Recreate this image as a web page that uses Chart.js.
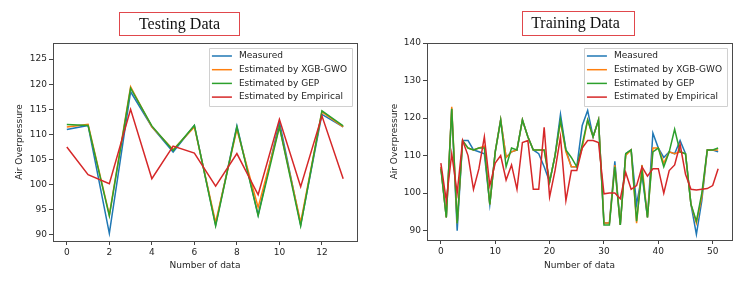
<!DOCTYPE html>
<html>
<head>
<meta charset="utf-8">
<script src="https://cdn.jsdelivr.net/npm/chart.js@4"></script>
<style>
    body { margin: 0; background: #fff; }
    #wrap { position: relative; width: 748px; height: 283px; }
    .panel { position: absolute; top: 0; width: 374px; height: 283px; }
    .boxTitle {
        position: absolute;
        border: 1px solid #e0474c;
        font-family: "Liberation Serif", "DejaVu Serif", serif;
        font-size: 16px;
        color: #111;
        text-align: center;
        box-sizing: border-box;
        line-height: 21px;
    }
</style>
</head>
<body>
<div id="wrap">
    <div class="panel" style="left:0"><canvas id="testChart" width="374" height="283"></canvas></div>
    <div class="panel" style="left:374px"><canvas id="trainChart" width="374" height="283"></canvas></div>
    <div class="boxTitle" style="left:119px; top:12px; width:121px; height:24px;">Testing Data</div>
    <div class="boxTitle" style="left:522px; top:11px; width:113px; height:25px; padding-right:6px;">Training Data</div>
</div>
<script>
// Series names and colours (matplotlib default cycle)
const seriesNames = ['Measured', 'Estimated by XGB-GWO', 'Estimated by GEP', 'Estimated by Empirical'];
const seriesColors = ['#1f77b4', '#ff7f0e', '#2ca02c', '#d62728'];

// Testing data (14 points)
const testMeasured  = [111, 111.8, 90.3, 118.5, 111.5, 106.5, 111.8, 92, 111.7, 94, 112.5, 92, 114, 111.5];
const testXgb       = [111.5, 112, 94, 119.5, 111.5, 107, 111.5, 92.5, 111, 95.5, 111.5, 92.5, 114.5, 111.5];
const testGep       = [112, 111.8, 93.8, 119.2, 111.7, 106.8, 111.8, 91.8, 111.5, 93.8, 111.5, 91.8, 114.7, 111.7];
const testEmpirical = [107.5, 102, 100.2, 115, 101.2, 107.7, 106.3, 99.7, 106.2, 98, 113, 99.6, 113.7, 101.2];
const testXTicks = [0, 2, 4, 6, 8, 10, 12];
const testYTicks = [90, 95, 100, 105, 110, 115, 120, 125];

// Training data (52 points)
const trainMeasured = [
    107, 93.5, 122.5, 90, 114, 114, 111.5, 111, 110.5, 97,
    111, 119.5, 109.5, 111, 111.5, 119.5, 115, 111.5, 110.5, 107,
    103, 110, 121, 111.5, 107, 107, 118, 122, 115, 119.5,
    92, 92, 108.5, 91.5, 110.5, 111.5, 97, 105, 93.5, 116,
    112, 109.5, 111, 110.5, 114, 110.5, 97, 89, 98, 111.5,
    111.5, 111
];
const trainXgb = [
    107, 93.5, 123, 92, 114, 112, 111.5, 112, 112.5, 97,
    111, 119.5, 109.5, 111, 111.5, 119.5, 115, 111.5, 111.5, 111.5,
    103, 110, 119, 111, 107, 107, 112, 119.5, 115, 119.5,
    92, 92, 107.5, 91.5, 110, 111.5, 92, 107.5, 93.5, 112,
    112, 108, 111, 110.5, 111, 110.5, 97, 92, 99, 111.5,
    111.5, 111.5
];
const trainGep = [
    106.5, 93.5, 122.5, 92, 114, 112, 111.5, 112, 112, 97,
    111, 119.5, 107, 112, 111.5, 119.5, 115, 111.5, 111.5, 111.5,
    103, 110, 119.5, 111.5, 109.5, 107, 113, 119.5, 115, 119.5,
    91.5, 91.5, 107, 91.5, 110.5, 111.5, 92.5, 106, 93.5, 111,
    112, 107, 111, 117, 111, 110.5, 97, 92.5, 100, 111.5,
    111.5, 112
];
const trainEmpirical = [
    108, 98, 110.5, 100, 114, 110, 101, 106.5, 115, 102,
    108, 110, 103.5, 107.5, 101, 113.5, 114, 101, 101, 117.5,
    99, 106, 115, 98, 106, 106, 112, 114, 114, 113.5,
    99.8, 100, 100, 98.5, 105.5, 101, 102, 107, 104.5, 106.5,
    106.5, 100, 106, 107.5, 113, 105, 101, 100.8, 101, 101.2,
    102, 106.5
];
const trainXTicks = [0, 10, 20, 30, 40, 50];
const trainYTicks = [90, 100, 110, 120, 130, 140];

const tickFont = { family: 'DejaVu Sans', size: 9 };
const tickColor = '#262626';

// Legend drawn inside the plot area, top right, with a frame around the axes
const innerLegend = {
    id: 'innerLegend',
    afterDraw(chart) {
        const ctx = chart.ctx;
        const area = chart.chartArea;
        ctx.save();
        // axes frame
        ctx.strokeStyle = '#4a4a4a';
        ctx.lineWidth = 1;
        ctx.strokeRect(Math.round(area.left) + 0.5, Math.round(area.top) + 0.5,
            Math.round(area.right - area.left), Math.round(area.bottom - area.top));

        ctx.font = '9px "DejaVu Sans"';
        const labels = chart.data.datasets.map(d => d.label);
        const textW = Math.max(...labels.map(l => ctx.measureText(l).width));
        const rowH = 13.7;
        const boxW = 3 + 20 + 7 + textW + 5;
        const boxH = rowH * labels.length + 3;
        const x0 = area.right - 5 - boxW;
        const y0 = area.top + 5;
        ctx.fillStyle = 'rgba(255,255,255,0.85)';
        ctx.strokeStyle = '#d0d0d0';
        ctx.beginPath();
        ctx.rect(Math.round(x0) + 0.5, Math.round(y0) + 0.5, Math.round(boxW), Math.round(boxH));
        ctx.fill();
        ctx.stroke();
        chart.data.datasets.forEach((d, i) => {
            const cy = y0 + 8 + i * rowH;
            ctx.strokeStyle = d.borderColor;
            ctx.lineWidth = 1.5;
            ctx.beginPath();
            ctx.moveTo(x0 + 3, cy);
            ctx.lineTo(x0 + 23, cy);
            ctx.stroke();
            ctx.fillStyle = '#222';
            ctx.textBaseline = 'middle';
            ctx.fillText(d.label, x0 + 30, cy);
        });
        ctx.restore();
    }
};

function makeChart(canvasId, seriesList, xTicks, yTicks, xMin, xMax, yMin, yMax, layout) {
    const ctx = document.getElementById(canvasId).getContext('2d');
    const datasets = seriesList.map((values, i) => ({
        label: seriesNames[i],
        data: values.map((v, idx) => ({ x: idx, y: v })),
        borderColor: seriesColors[i],
        backgroundColor: seriesColors[i],
        borderWidth: 1.5,
        pointRadius: 0,
        tension: 0,
        fill: false,
        // last series drawn on top, like matplotlib
        order: seriesList.length - i
    }));

    return new Chart(ctx, {
        type: 'line',
        data: { datasets: datasets },
        options: {
            responsive: false,
            animation: false,
            layout: {
                padding: { top: layout.top, right: layout.right, left: layout.left, bottom: layout.bottom }
            },
            scales: {
                x: {
                    type: 'linear',
                    min: xMin,
                    max: xMax,
                    afterBuildTicks: scale => { scale.ticks = xTicks.map(v => ({ value: v })); },
                    afterFit: scale => { scale.height = layout.xHeight; },
                    grid: { drawOnChartArea: false, tickLength: 4, color: '#444' },
                    border: { display: false },
                    ticks: { font: tickFont, color: tickColor, padding: 2, maxRotation: 0 },
                    title: { display: true, text: 'Number of data', font: tickFont, color: tickColor, padding: { top: 1, bottom: 0 } }
                },
                y: {
                    min: yMin,
                    max: yMax,
                    afterBuildTicks: scale => { scale.ticks = yTicks.map(v => ({ value: v })); },
                    afterFit: scale => { scale.width = layout.yWidth; },
                    grid: { drawOnChartArea: false, tickLength: 4, color: '#444' },
                    border: { display: false },
                    ticks: { font: tickFont, color: tickColor, padding: 2 },
                    title: { display: true, text: 'Air Overpressure', font: tickFont, color: tickColor, padding: { top: 0, bottom: 0 } }
                }
            },
            plugins: {
                legend: { display: false },
                tooltip: { enabled: false }
            }
        },
        plugins: [innerLegend]
    });
}

makeChart('testChart', [testMeasured, testXgb, testGep, testEmpirical],
    testXTicks, testYTicks, -0.65, 13.65, 88.8, 128.2,
    { top: 43, right: 17, left: 14, bottom: 12, yWidth: 39, xHeight: 30 });

makeChart('trainChart', [trainMeasured, trainXgb, trainGep, trainEmpirical],
    trainXTicks, trainYTicks, -2.55, 53.55, 87.5, 140,
    { top: 43, right: 16, left: 15, bottom: 12, yWidth: 38, xHeight: 31 });
</script>
</body>
</html>
